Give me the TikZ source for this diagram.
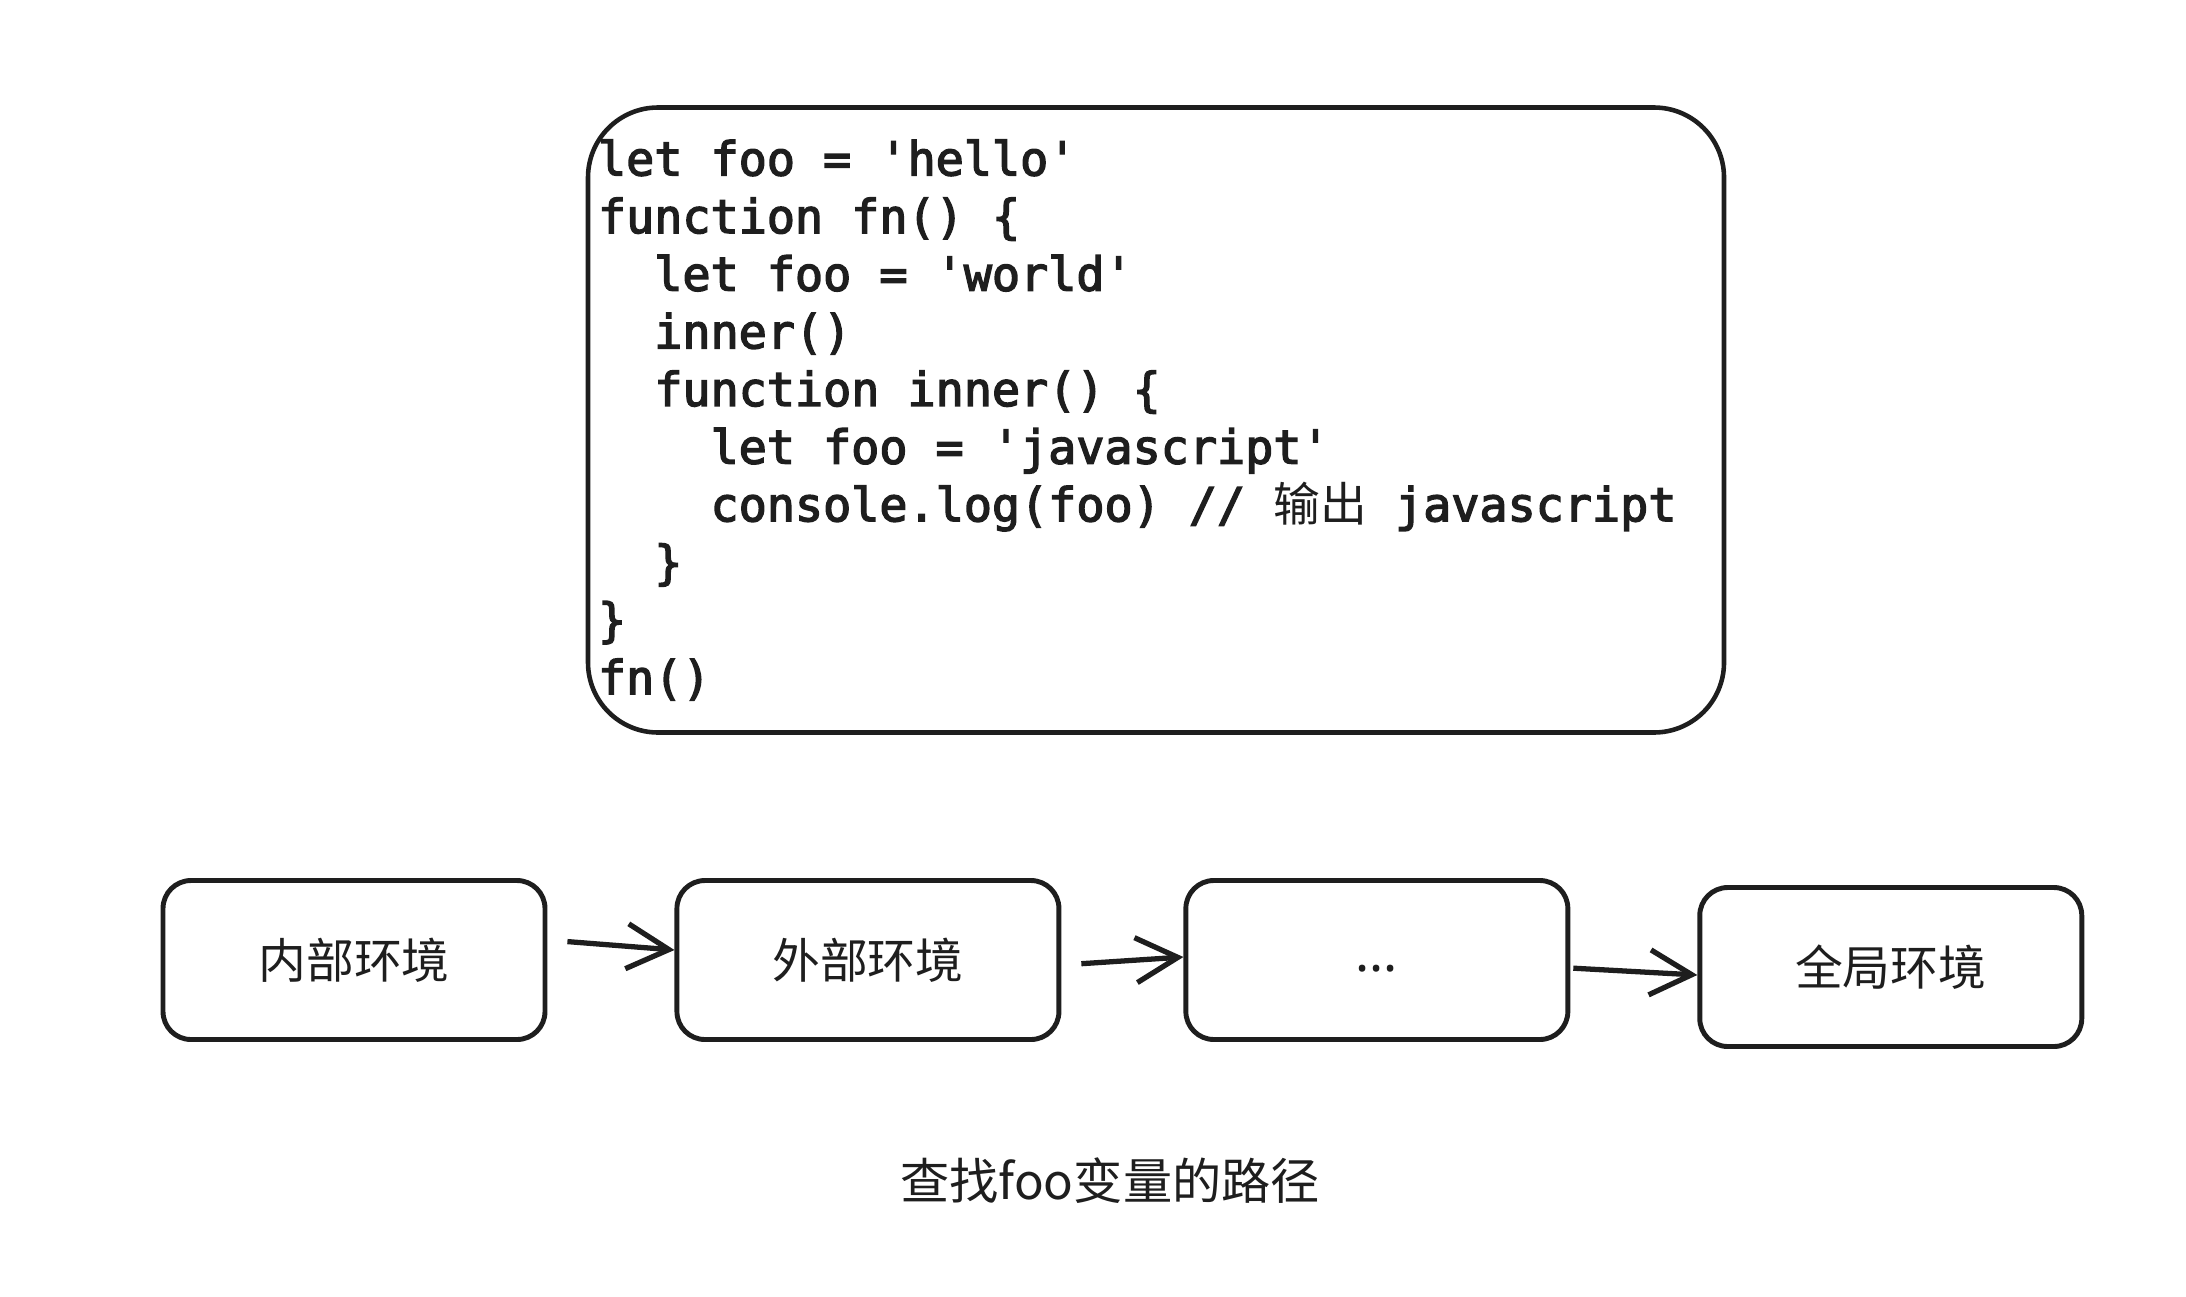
\documentclass[tikz,border=0pt]{standalone}
\usepackage{fontspec}
\usepackage{xcolor}
\usepackage{tikz}
\usetikzlibrary{positioning,arrows.meta}

\newfontfamily\codefont{DejaVu Sans Mono}[FakeBold=3]
\newfontfamily\cjk{Noto Sans CJK SC}
\newfontfamily\dotsfont{Noto Sans}
\definecolor{ink}{HTML}{1E1E1E}
\newcommand{\ind}{\hspace*{1.204em}}
\newcommand{\monospaces}{\spaceskip=0.602em\relax}

\begin{document}
\begin{tikzpicture}[
    every node/.style={text=ink},
    codebox/.style={rectangle, rounded corners=0.7cm, draw=ink, line width=1.3pt,
                    minimum width=11.36cm, minimum height=6.25cm,
                    inner xsep=0.1cm, text width=11.16cm, align=left,
                    font=\codefont\fontsize{13.3pt}{16.4pt}\selectfont},
    envbox/.style={rectangle, rounded corners=0.28cm, draw=ink, line width=1.4pt,
                   minimum width=3.82cm, minimum height=1.59cm,
                   font=\cjk\fontsize{13.6pt}{16pt}\selectfont},
    arr/.style={-{Straight Barb[length=0.42cm, width=0.45cm]}, draw=ink,
                line width=1.5pt, shorten <=0.2cm}
]
\useasboundingbox (0,0) rectangle (21.86,-12.96);

% source code
\node[codebox] (code) at (11.56,-4.2) {\monospaces
let foo = 'hello'\\
function fn() \{\\
\ind let foo = 'world'\\
\ind inner()\\
\ind function inner() \{\\
\ind\ind let foo = 'javascript'\\
\ind\ind console.log(foo) // {\cjk 输出} javascript\\
\ind \}\\
\}\\
fn()};

% lookup chain
\node[envbox]                                   (inner)  at (3.54,-9.60) {内部环境};
\node[envbox, right=1.27cm of inner]            (outer)  {外部环境};
\node[envbox, right=1.22cm of outer]            (more)   {\raisebox{-0.11cm}[0pt][0pt]{\dotsfont\bfseries\fontsize{15pt}{16pt}\selectfont ...}};
\node[envbox, right=1.27cm of more, yshift=-0.07cm] (global) {全局环境};

\draw[arr] ([yshift=0.2cm]inner.east) -- ([yshift=0.1cm]outer.west);
\draw[arr] ([yshift=-0.05cm]outer.east) -- ([yshift=0.03cm]more.west);
\draw[arr, shorten <=0.03cm] ([yshift=-0.08cm]more.east) -- ([yshift=-0.08cm]global.west);

\node[font=\cjk\fontsize{14pt}{16pt}\selectfont] (caption) at (11.10,-11.81) {查找foo变量的路径};
\end{tikzpicture}
\end{document}
